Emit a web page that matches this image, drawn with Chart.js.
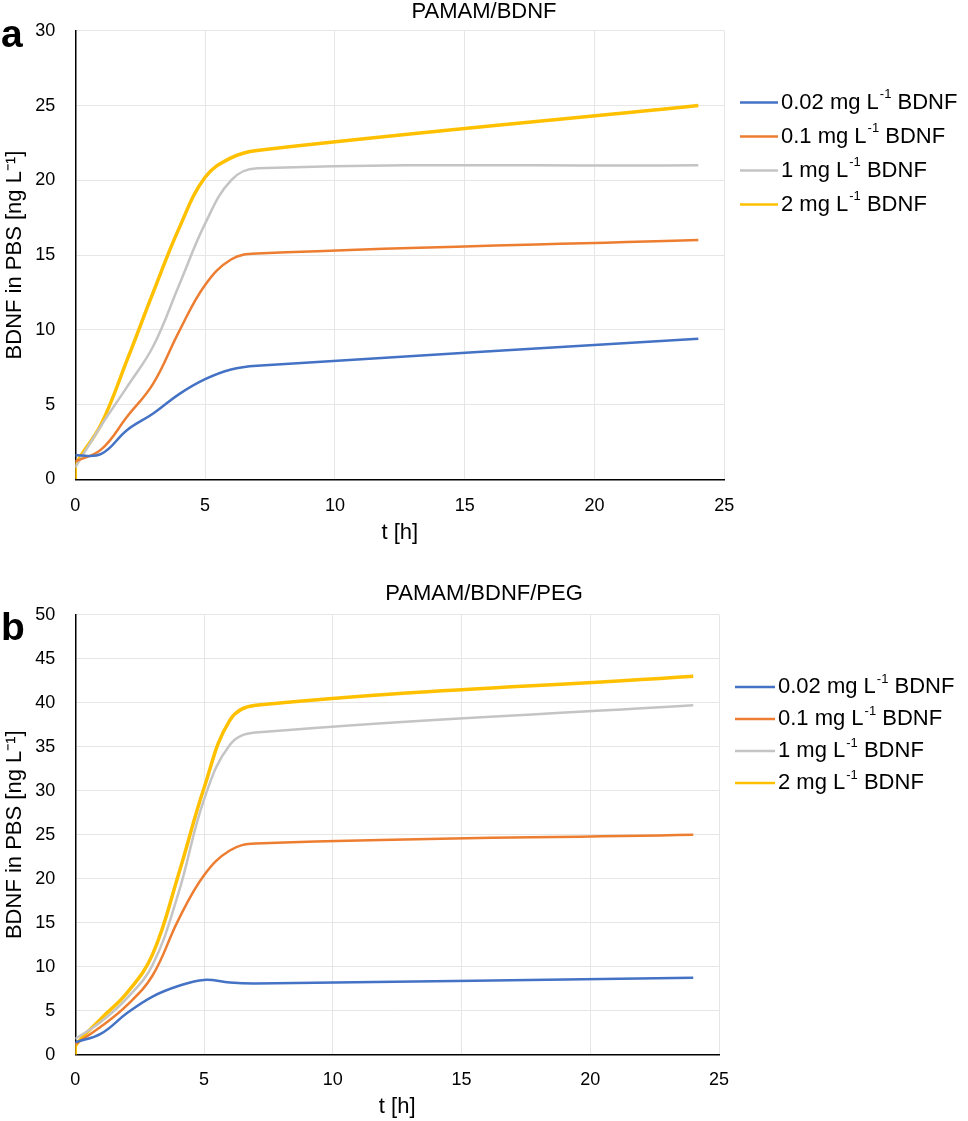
<!DOCTYPE html>
<html>
<head>
<meta charset="utf-8">
<script src="https://cdn.jsdelivr.net/npm/chart.js@4.4.1/dist/chart.umd.min.js"></script>
<style>
  body { margin: 0; background: #fff; }
  #wrapA { position: absolute; left: 0; top: 0; width: 968px; height: 560px; }
  #wrapB { position: absolute; left: 0; top: 560px; width: 968px; height: 561px; }
</style>
</head>
<body>
<div id="wrapA"><canvas id="chartA" width="968" height="560"></canvas></div>
<div id="wrapB"><canvas id="chartB" width="968" height="561"></canvas></div>
<script>
// sampling times [h]
var hours = [0, 1, 2, 3, 4, 5, 6, 7, 24];
var doses = ["0.02", "0.1", "1", "2"];
var colors = ["#4472C4", "#ED7D31", "#C4C4C4", "#FFC000"];
var widths = [2.5, 2.5, 2.5, 3.5];

// PAMAM/BDNF
var blueA = [1.6, 1.7, 3.3, 4.4, 5.7, 6.7, 7.35, 7.6, 9.4];
var orangeA = [1.2, 2.0, 4.2, 6.4, 9.9, 13.0, 14.7, 15.1, 16.0];
var grayA = [0.8, 3.6, 6.2, 8.9, 13.0, 17.1, 20.0, 20.8, 21.0];
var yellowA = [0.9, 3.7, 8.0, 12.5, 16.8, 20.2, 21.5, 22.0, 25.0];

// PAMAM/BDNF/PEG
var blueB = [1.4, 2.4, 4.7, 6.6, 7.8, 8.5, 8.2, 8.1, 8.75];
var orangeB = [1.2, 3.2, 5.6, 9.0, 15.3, 20.4, 23.2, 24.0, 25.0];
var grayB = [1.8, 3.75, 6.4, 10.2, 18.3, 29.0, 35.2, 36.6, 39.7];
var yellowB = [1.0, 4.1, 7.0, 11.4, 20.4, 30.3, 38.0, 39.7, 43.0];

var yTicksA = [0, 30, 5];
var yTicksB = [0, 50, 5];
var xTicks = [0, 25, 5];

var FONT = '"Liberation Sans", Arial, sans-serif';

function toPoints(values, startAtZero) {
  var pts = [];
  if (startAtZero) pts.push({ x: 0, y: 0 });
  for (var i = 0; i < values.length; i++) {
    pts.push({ x: hours[i], y: values[i] });
  }
  return pts;
}

function makeDatasets(series) {
  var sets = [];
  for (var i = 0; i < series.length; i++) {
    sets.push({
      label: doses[i] + " mg L\u207B\u00B9 BDNF",
      data: toPoints(series[i], i == 3),
      borderColor: colors[i],
      backgroundColor: colors[i],
      borderWidth: widths[i],
      pointRadius: 0,
      tension: 0.4,
      fill: false
    });
  }
  return sets;
}

// title, panel letter and legend (with a raised "-1")
var decorPlugin = {
  id: "decor",
  afterDraw: function(chart, args, opts) {
    var ctx = chart.ctx;
    ctx.save();
    ctx.fillStyle = "#000";
    ctx.textAlign = "center";
    ctx.textBaseline = "middle";
    ctx.font = "22px " + FONT;
    ctx.fillText(opts.title, chart.width / 2, opts.titleY);

    ctx.font = "bold 39px " + FONT;
    ctx.textBaseline = "alphabetic";
    ctx.textAlign = "left";
    ctx.fillText(opts.letter, 1, opts.letterY);

    var sets = chart.data.datasets;
    for (var i = 0; i < sets.length; i++) {
      var y = opts.legendY + i * opts.legendGap;
      ctx.strokeStyle = sets[i].borderColor;
      ctx.lineWidth = 2.5;
      ctx.beginPath();
      ctx.moveTo(opts.legendX, y);
      ctx.lineTo(opts.legendX + opts.lineLen, y);
      ctx.stroke();

      var x = opts.legendX + opts.lineLen + 3;
      ctx.textBaseline = "middle";
      ctx.font = "22px " + FONT;
      var pre = doses[i] + " mg L";
      ctx.fillText(pre, x, y);
      x += ctx.measureText(pre).width;
      ctx.font = "13px " + FONT;
      ctx.fillText("-1", x + 1, y - 8);
      x += ctx.measureText("-1").width + 1;
      ctx.font = "22px " + FONT;
      ctx.fillText(" BDNF", x, y);
    }
    ctx.restore();
  }
};

function makeOptions(o) {
  return {
    responsive: false,
    animation: false,
    layout: { padding: { left: 0, right: o.right, top: o.top, bottom: 0 } },
    plugins: {
      legend: { display: false },
      tooltip: { enabled: false },
      title: { display: false },
      decor: o.decor
    },
    scales: {
      x: {
        type: "linear",
        min: xTicks[0],
        max: xTicks[1],
        afterFit: function(scale) { scale.height = o.xHeight; },
        ticks: { stepSize: xTicks[2], padding: o.xPad, color: "#000", font: { family: FONT, size: 18 } },
        grid: { color: "#e6e6e6", drawTicks: false },
        border: { display: true, color: "#000", width: 1.5 },
        title: {
          display: true,
          text: "t [h]",
          color: "#000",
          font: { family: FONT, size: 22 },
          padding: { top: 0, bottom: o.xTitlePad }
        }
      },
      y: {
        min: o.yTicks[0],
        max: o.yTicks[1],
        afterFit: function(scale) { scale.width = 75.3; },
        ticks: { stepSize: o.yTicks[2], padding: 20, color: "#000", font: { family: FONT, size: 18 } },
        grid: { color: "#e6e6e6", drawTicks: false },
        border: { display: true, color: "#000", width: 1.5 },
        title: {
          display: true,
          text: "BDNF in PBS [ng L\u207B\u00B9]",
          color: "#000",
          font: { family: FONT, size: 22 },
          padding: { top: 2, bottom: 0 }
        }
      }
    }
  };
}

new Chart(document.getElementById("chartA"), {
  type: "line",
  data: { datasets: makeDatasets([blueA, orangeA, grayA, yellowA]) },
  options: makeOptions({
    right: 968 - 724.3,
    top: 29.3,
    xHeight: 560 - 479.3,
    xPad: 16,
    xTitlePad: 13.8,
    yTicks: yTicksA,
    decor: { title: "PAMAM/BDNF", titleY: 12, letter: "a", letterY: 47,
             legendX: 740, legendY: 102.5, legendGap: 34, lineLen: 38 }
  }),
  plugins: [decorPlugin]
});

new Chart(document.getElementById("chartB"), {
  type: "line",
  data: { datasets: makeDatasets([blueB, orangeB, grayB, yellowB]) },
  options: makeOptions({
    right: 968 - 719,
    top: 54.7,
    xHeight: 561 - 494.7,
    xPad: 15,
    xTitlePad: 1,
    yTicks: yTicksB,
    decor: { title: "PAMAM/BDNF/PEG", titleY: 34, letter: "b", letterY: 80,
             legendX: 735, legendY: 127, legendGap: 32, lineLen: 40 }
  }),
  plugins: [decorPlugin]
});
</script>
</body>
</html>
